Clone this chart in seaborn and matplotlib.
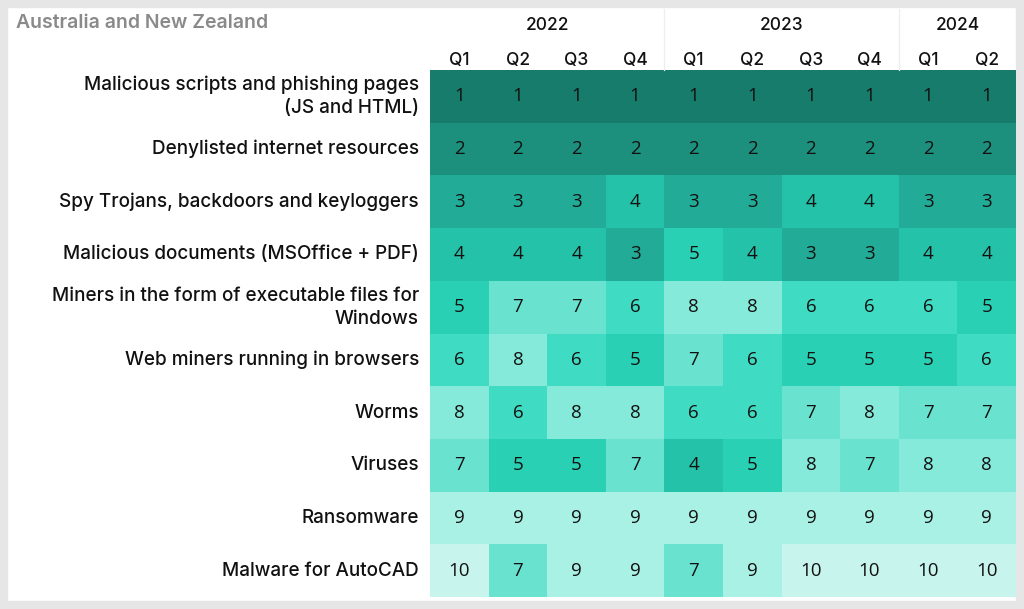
import numpy as np
import pandas as pd
import matplotlib.pyplot as plt
import seaborn as sns
from matplotlib.colors import ListedColormap
from matplotlib.patches import Rectangle

categories = [
    "Malicious scripts and phishing pages\n(JS and HTML)",
    "Denylisted internet resources",
    "Spy Trojans, backdoors and keyloggers",
    "Malicious documents (MSOffice + PDF)",
    "Miners in the form of executable files for\nWindows",
    "Web miners running in browsers",
    "Worms",
    "Viruses",
    "Ransomware",
    "Malware for AutoCAD",
]
years = ["2022"] * 4 + ["2023"] * 4 + ["2024"] * 2
quarters = ["Q1", "Q2", "Q3", "Q4", "Q1", "Q2", "Q3", "Q4", "Q1", "Q2"]

ranks = [
    [1, 1, 1, 1, 1, 1, 1, 1, 1, 1],
    [2, 2, 2, 2, 2, 2, 2, 2, 2, 2],
    [3, 3, 3, 4, 3, 3, 4, 4, 3, 3],
    [4, 4, 4, 3, 5, 4, 3, 3, 4, 4],
    [5, 7, 7, 6, 8, 8, 6, 6, 6, 5],
    [6, 8, 6, 5, 7, 6, 5, 5, 5, 6],
    [8, 6, 8, 8, 6, 6, 7, 8, 7, 7],
    [7, 5, 5, 7, 4, 5, 8, 7, 8, 8],
    [9, 9, 9, 9, 9, 9, 9, 9, 9, 9],
    [10, 7, 9, 9, 7, 9, 10, 10, 10, 10],
]

rank_colors = ["#177c6c", "#1d8f7d", "#22ac97", "#25c2aa", "#29d0b4",
               "#3fdbc3", "#69e3cf", "#86eadb", "#a9f0e5", "#c8f4ee"]

df = pd.DataFrame(ranks, index=categories, columns=range(len(quarters)))

sns.set_theme(style="white")
plt.rcParams["font.family"] = ["Inter", "DejaVu Sans"]

W, H = 1024, 609
fig = plt.figure(figsize=(W / 100, H / 100), dpi=100, facecolor="white")
# light grey frame around the panel
fig.patches.append(Rectangle((4 / W, 4 / H), 1016 / W, 601 / H,
                             transform=fig.transFigure, facecolor="none",
                             edgecolor="#e6e6e6", linewidth=6, zorder=-5))

ax = fig.add_axes([430 / W, 12 / H, 586 / W, 527 / H])
cmap = ListedColormap(rank_colors)
sns.heatmap(df, cmap=cmap, vmin=0.5, vmax=10.5, annot=True, fmt="d",
            cbar=False, ax=ax, linewidths=0,
            annot_kws={"fontsize": 13.5, "color": "#111111",
                       "family": ["Open Sans", "DejaVu Sans"]})

ax.xaxis.tick_top()
ax.set_xticks(np.arange(len(quarters)) + 0.5)
ax.set_xticklabels(quarters, fontsize=12.5, color="#111111", fontweight="medium")
ax.tick_params(axis="x", length=0, pad=1)
ax.tick_params(axis="y", length=0, pad=8)
ax.set_yticklabels(categories, fontsize=13.6, color="#111111", rotation=0,
                   ha="right", multialignment="right", linespacing=1.35,
                   fontweight="medium")
ax.set_xlabel("")
ax.set_ylabel("")

# year headers
for yr in dict.fromkeys(years):
    idx = [i for i, y in enumerate(years) if y == yr]
    ax.text((idx[0] + idx[-1] + 1) / 2, -0.84, yr, ha="center", va="center",
            fontsize=12.5, color="#111111", fontweight="medium", clip_on=False)
    if idx[0] > 0:
        ax.plot([idx[0], idx[0]], [-1.15, 0], color="#eeeeee", lw=1,
                clip_on=False)

fig.text(16 / W, 1 - 23 / H, "Australia and New Zealand", ha="left",
         va="center", fontsize=14, fontweight="semibold", color="#8a8a8a")

fig.savefig("out.png", dpi=100, facecolor=fig.get_facecolor())
